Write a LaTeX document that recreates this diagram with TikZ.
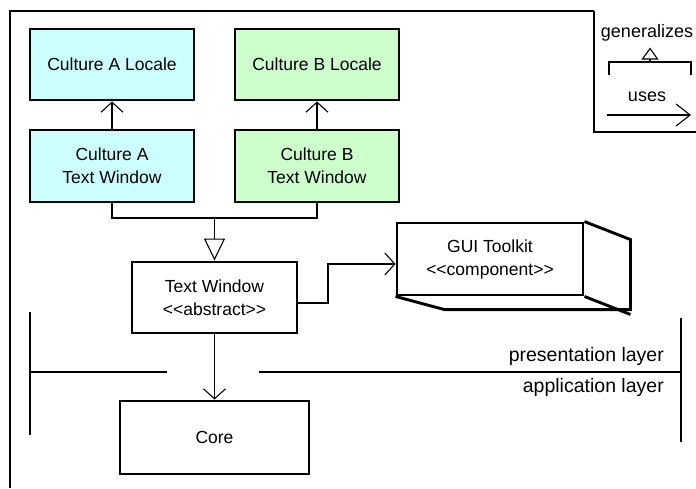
\documentclass[tikz,border=0pt]{standalone}
\usepackage{fontspec}
\setmainfont{Liberation Sans}
\usetikzlibrary{arrows.meta}
\definecolor{cyanfill}{HTML}{CCFFFF}
\definecolor{greenfill}{HTML}{CCFFCC}
\newcommand{\lt}{<\kern0pt}
\newcommand{\gt}{>\kern0pt}
\tikzset{
  box/.style={draw, line width=2.9pt, minimum width=#1, inner sep=0pt, align=center, font=\fontsize{17.5}{23}\selectfont},
  conn/.style={line width=1.1pt},
  usearrow/.style={conn, -{Straight Barb[length=10pt, width=22pt, line width=1.1pt]}},
  genarrow/.style={conn, -{Triangle[open, length=22pt, width=21pt, line width=1.1pt, fill=white]}},
  frame/.style={line width=1.1pt},
  layerlbl/.style={anchor=east, inner sep=0pt, font=\fontsize{19.5}{23}\selectfont},
}
\begin{document}
\begin{tikzpicture}[x=1pt, y=-1pt]
\useasboundingbox (0,0) rectangle (696,488);
% frame and legend box
\draw[frame] (10,488) -- (10,11) -- (594,11);
\draw[frame] (594,11) -- (594,132) -- (696,132);
% boxes
\node[box=164pt, minimum height=71pt, fill=cyanfill] (aloc) at (112,64.5) {Culture A Locale};
\node[box=164pt, minimum height=71pt, fill=greenfill] (bloc) at (317,64.5) {Culture B Locale};
\node[box=164pt, minimum height=72pt, fill=cyanfill] (atw) at (112,166) {Culture A\\Text Window};
\node[box=164pt, minimum height=72pt, fill=greenfill] (btw) at (317,166) {Culture B\\Text Window};
\node[box=165pt, minimum height=71pt, fill=white] (tw) at (214.5,297.5) {Text Window\\\lt\lt abstract\gt\gt};
\node[box=189pt, minimum height=73pt, fill=white] (core) at (214.5,437.5) {Core};
\node[box=186pt, minimum height=72pt, fill=white] (gui) at (490,259) {GUI Toolkit\\\lt\lt component\gt\gt};
% 3D depth of GUI component
\draw[line width=2.9pt, line join=miter] (gui.north east) -- ++(46,18) -- ++(0,70) -- ++(-186,0) -- (gui.south west);
\draw[line width=2.9pt] (gui.south east) -- ++(46,18);
% connectors
\draw[usearrow] (atw) -- (aloc);
\draw[usearrow] (btw) -- (bloc);
\coordinate (gj) at (214.5,218);
\draw[conn] (atw.south) |- (gj) -| (btw.south);
\draw[genarrow] (gj) -- (tw.north);
\coordinate (bend) at (328,264);
\draw[usearrow] ([yshift=-5.5pt]tw.east) -| (bend) -- (bend -| gui.west);
\draw[usearrow] (tw.south) -- (core.north);
% layer lines
\draw[frame] (30,312) -- (30,435);
\draw[frame] (30,372) -- (167,372);
\draw[frame] (259,372) -- (681,372);
\draw[frame] (681,318) -- (681,442);
\node[layerlbl] (pres) at (664,356) {presentation layer};
\node[layerlbl] (appl) at (664,387) {application layer};
% legend
\node[inner sep=0pt, font=\fontsize{18}{20}\selectfont] (lgen) at (647,33) {generalizes};
\coordinate (bl) at (609,75);
\coordinate (br) at (691,75);
\coordinate (bm) at (650,62);
\coordinate (bbase) at (650,59);
\draw[conn] (bl) |- (bm) -| (br);
\draw[conn] (bm) -- (bbase);
\draw[conn, line join=miter] (642.5,59) -- (657.5,59) -- (650,48.5) -- cycle;
\node[inner sep=0pt, font=\fontsize{18}{20}\selectfont] (luse) at (647,97) {uses};
\coordinate (ua) at (607,115);
\coordinate (ub) at (691,115);
\draw[conn, -{Straight Barb[length=14pt, width=22pt, line width=1.1pt]}] (ua) -- (ub);
\end{tikzpicture}
\end{document}
